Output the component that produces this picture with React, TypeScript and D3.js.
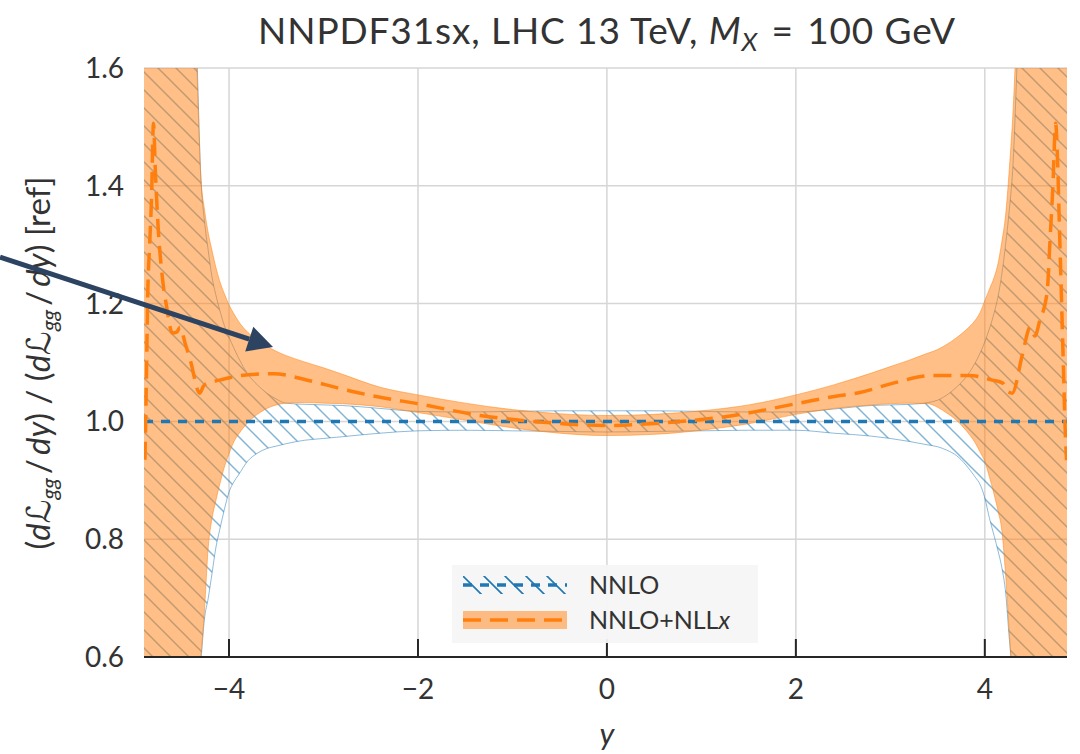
import React from "react";
import * as d3 from "d3";

// ---------- data ----------
const bandY = [
  -4.9, -4.6, -4.4, -4.34, -4.3, -4.26, -4.22, -4.18, -4.14, -4.1, -4.05, -4.0, -3.95, -3.9, -3.8, -3.7,
  -3.6, -3.5, -3.4, -3.2, -3.0, -2.8, -2.4, -2.0, -1.5, -1.0, -0.5, 0.0, 0.5, 1.0, 1.5, 2.0, 2.4, 2.8,
  3.0, 3.2, 3.4, 3.5, 3.6, 3.7, 3.8, 3.9, 3.95, 4.0, 4.05, 4.1, 4.14, 4.18, 4.22, 4.26, 4.3, 4.34, 4.4,
  4.6, 4.9,
];
const nnloUpper = [
  3.0, 2.4, 1.85, 1.62, 1.42, 1.34, 1.29, 1.245, 1.215, 1.19, 1.163, 1.143, 1.125, 1.108, 1.08, 1.062,
  1.048, 1.038, 1.031, 1.029, 1.028, 1.027, 1.022, 1.017, 1.016, 1.017, 1.018, 1.018, 1.018, 1.017, 1.016,
  1.016, 1.021, 1.027, 1.028, 1.029, 1.032, 1.036, 1.045, 1.058, 1.075, 1.1, 1.116, 1.135, 1.158, 1.185,
  1.212, 1.25, 1.3, 1.36, 1.44, 1.6, 1.85, 2.4, 3.0,
];
const nnloLower = [
  0.0, 0.2, 0.45, 0.54, 0.59, 0.665, 0.7, 0.742, 0.785, 0.815, 0.85, 0.88, 0.897, 0.909, 0.933, 0.946,
  0.954, 0.958, 0.962, 0.968, 0.971, 0.974, 0.98, 0.984, 0.985, 0.984, 0.983, 0.982, 0.983, 0.984, 0.985,
  0.985, 0.98, 0.975, 0.971, 0.966, 0.96, 0.957, 0.951, 0.942, 0.926, 0.905, 0.893, 0.87, 0.835, 0.805,
  0.78, 0.752, 0.71, 0.63, 0.56, 0.5, 0.42, 0.2, 0.0,
];
const resUpper = [
  3.0, 2.4, 1.9, 1.6, 1.42, 1.36, 1.32, 1.29, 1.262, 1.239, 1.217, 1.198, 1.183, 1.17, 1.151, 1.139,
  1.128, 1.119, 1.112, 1.101, 1.091, 1.08, 1.058, 1.045, 1.031, 1.02, 1.013, 1.01, 1.012, 1.018, 1.028,
  1.045, 1.062, 1.082, 1.093, 1.104, 1.116, 1.122, 1.131, 1.142, 1.155, 1.172, 1.185, 1.205, 1.225, 1.245,
  1.268, 1.305, 1.35, 1.43, 1.53, 1.68, 1.95, 2.4, 3.0,
];
const resLower = [
  0.2, 0.35, 0.5, 0.56, 0.6, 0.68, 0.786, 0.835, 0.865, 0.892, 0.922, 0.945, 0.965, 0.978, 0.998, 1.012,
  1.022, 1.028, 1.031, 1.032, 1.031, 1.03, 1.025, 1.015, 1.002, 0.989, 0.98, 0.976, 0.978, 0.985, 0.996,
  1.012, 1.022, 1.028, 1.03, 1.031, 1.03, 1.024, 1.014, 1.002, 0.985, 0.963, 0.948, 0.932, 0.905, 0.875,
  0.848, 0.815, 0.74, 0.64, 0.55, 0.48, 0.42, 0.3, 0.2,
];
const nnloCentralY = [-4.9, 4.87];
const nnloCentral = [1.0, 1.0];
const resCentralY = [
  -4.89, -4.88, -4.87, -4.86, -4.84, -4.82, -4.8, -4.78, -4.75, -4.71, -4.66, -4.6, -4.55, -4.52, -4.46,
  -4.41, -4.31, -4.27, -4.23, -4.1, -3.88, -3.53, -3.17, -2.83, -2.4, -2.0, -1.34, -0.63, 0.0, 0.63, 1.34,
  2.0, 2.47, 2.68, 3.03, 3.45, 3.84, 4.08, 4.19, 4.25, 4.29, 4.4, 4.48, 4.53, 4.58, 4.66, 4.69, 4.72, 4.75,
  4.77, 4.79, 4.81, 4.83, 4.85, 4.865,
];
const resCentral = [
  0.935, 1.02, 1.12, 1.217, 1.3, 1.38, 1.506, 1.426, 1.329, 1.251, 1.194, 1.15, 1.152, 1.16, 1.13, 1.104,
  1.048, 1.06, 1.065, 1.07, 1.078, 1.081, 1.07, 1.056, 1.041, 1.03, 1.01, 0.998, 0.993, 0.998, 1.01, 1.03,
  1.044, 1.049, 1.065, 1.078, 1.078, 1.07, 1.065, 1.05, 1.048, 1.115, 1.16, 1.145, 1.17, 1.22, 1.307, 1.397,
  1.506, 1.443, 1.329, 1.217, 1.104, 0.99, 0.934,
];
const xTicks = [-4, -2, 0, 2, 4];
const yTicks = [0.6, 0.8, 1.0, 1.2, 1.4, 1.6];
const xDomain = [-4.9, 4.87];
const yDomain = [0.6, 1.6];
const legendLabels = ["NNLO", "NNLO+NLL"];

// ---------- layout ----------
const W = 1080;
const H = 754;
const L = 144, R = 1067, T = 68, B = 657;
const BLUE = "#1f77b4";
const ORANGE = "#ff7f0e";
const TXT = "#333333";
const FONT = "Lato, 'DejaVu Sans', sans-serif";

export default function App() {
  const x = d3.scaleLinear().domain(xDomain).range([L, R]);
  const y = d3.scaleLinear().domain(yDomain).range([B, T]);

  const band = bandY.map((v, i) => ({ v, nu: nnloUpper[i], nl: nnloLower[i], ru: resUpper[i], rl: resLower[i] }));
  const curve = d3.curveMonotoneX;
  const nnloArea = d3.area<any>().x((d) => x(d.v)).y0((d) => y(d.nl)).y1((d) => y(d.nu)).curve(curve)(band) || "";
  const resArea = d3.area<any>().x((d) => x(d.v)).y0((d) => y(d.rl)).y1((d) => y(d.ru)).curve(curve)(band) || "";
  const nnloUpLine = d3.line<any>().x((d) => x(d.v)).y((d) => y(d.nu)).curve(curve)(band) || "";
  const nnloLoLine = d3.line<any>().x((d) => x(d.v)).y((d) => y(d.nl)).curve(curve)(band) || "";
  const resUpLine = d3.line<any>().x((d) => x(d.v)).y((d) => y(d.ru)).curve(curve)(band) || "";
  const resLoLine = d3.line<any>().x((d) => x(d.v)).y((d) => y(d.rl)).curve(curve)(band) || "";
  const nnloC = d3.line<number>().x((d, i) => x(nnloCentralY[i])).y((d) => y(d))(nnloCentral) || "";
  const resC = d3.line<number>().x((d, i) => x(resCentralY[i])).y((d) => y(d)).curve(d3.curveMonotoneX)(resCentral) || "";

  // arrow geometry (annotation)
  const ax0 = 0, ay0 = 257, ax1 = 273, ay1 = 347;
  const ang = Math.atan2(ay1 - ay0, ax1 - ax0);
  const hl = 25, hw = 13;
  const bx = ax1 - hl * Math.cos(ang), by = ay1 - hl * Math.sin(ang);
  const head = `M${ax1},${ay1} L${bx + hw * Math.sin(ang)},${by - hw * Math.cos(ang)} L${bx - hw * Math.sin(ang)},${by + hw * Math.cos(ang)} Z`;

  const lgX = 452, lgY = 565;
  return (
    <svg width={W} height={H} style={{ position: "absolute", left: 0, top: 0 }} fontFamily={FONT}>
      <defs>
        <clipPath id="plotclip">
          <rect x={L} y={T} width={R - L} height={B - T} />
        </clipPath>
        <pattern id="hatch" patternUnits="userSpaceOnUse" width={18} height={18}>
          <path d="M-2,-2 L20,20 M-2,16 L2,20 M16,-2 L20,2" stroke={BLUE} strokeOpacity={0.55} strokeWidth={1.5} />
        </pattern>
        <pattern id="hatchLeg" patternUnits="userSpaceOnUse" width={21} height={21} x={463} y={576}>
          <path d="M-2,-2 L23,23 M-2,19 L2,23 M19,-2 L23,2" stroke={BLUE} strokeWidth={1.6} />
        </pattern>
      </defs>

      <rect x={0} y={0} width={W} height={H} fill="#ffffff" />

      {/* grid */}
      {xTicks.map((t) => (
        <line key={"gx" + t} x1={x(t)} x2={x(t)} y1={T} y2={B} stroke="#d6d6d6" strokeWidth={1.5} />
      ))}
      {yTicks.map((t) => (
        <line key={"gy" + t} x1={L} x2={R} y1={y(t)} y2={y(t)} stroke="#d6d6d6" strokeWidth={1.5} />
      ))}

      <g clipPath="url(#plotclip)">
        <path d={nnloArea} fill="url(#hatch)" />
        <path d={nnloUpLine} fill="none" stroke={BLUE} strokeOpacity={0.5} strokeWidth={1} />
        <path d={nnloLoLine} fill="none" stroke={BLUE} strokeOpacity={0.5} strokeWidth={1} />
        <path d={resArea} fill={ORANGE} fillOpacity={0.5} />
        <path d={resUpLine} fill="none" stroke={ORANGE} strokeOpacity={0.5} strokeWidth={1} />
        <path d={resLoLine} fill="none" stroke={ORANGE} strokeOpacity={0.5} strokeWidth={1} />
        <path d={nnloC} fill="none" stroke={BLUE} strokeWidth={3.5} strokeDasharray="9,8" />
        <path d={resC} fill="none" stroke={ORANGE} strokeWidth={3.5} strokeDasharray="18,9" />
      </g>

      {/* bottom spine and ticks */}
      <line x1={L} x2={R} y1={B} y2={B} stroke="#262626" strokeWidth={2.2} />
      {xTicks.map((t) => (
        <g key={"tx" + t}>
          <line x1={x(t)} x2={x(t)} y1={B} y2={B - 18} stroke="#262626" strokeWidth={2} />
          <text x={x(t)} y={B + 42} textAnchor="middle" fontSize={28} fill={TXT}>
            {t < 0 ? "\u2212" + Math.abs(t) : String(t)}
          </text>
        </g>
      ))}
      {yTicks.map((t) => (
        <text key={"ty" + t} x={124} y={y(t) + 10} textAnchor="end" fontSize={28} fill={TXT}>
          {t.toFixed(1)}
        </text>
      ))}

      {/* title */}
      <text x={607} y={44} textAnchor="middle" fontSize={37} fill={TXT} letterSpacing={0.9}>
        <tspan>NNPDF31sx, LHC 13 TeV, </tspan>
        <tspan fontStyle="italic">M</tspan>
        <tspan fontStyle="italic" fontSize={26} dy={7}>X</tspan>
        <tspan dy={-7}>{"\u2004=\u2004"}</tspan>
        <tspan>100 GeV</tspan>
      </text>

      {/* x label */}
      <text x={607} y={745} textAnchor="middle" fontSize={31} fontStyle="italic" fill={TXT}>y</text>

      {/* y label */}
      <text transform="translate(50,363) rotate(-90)" textAnchor="middle" fontSize={33} fill={TXT}>
        <tspan>(</tspan>
        <tspan fontStyle="italic">d</tspan>
        <tspan>{"\u2112"}</tspan>
        <tspan fontStyle="italic" fontSize={22} dy={7}>gg</tspan>
        <tspan dy={-7}>{"\u2009/\u2009"}</tspan>
        <tspan fontStyle="italic">dy</tspan>
        <tspan>) / (</tspan>
        <tspan fontStyle="italic">d</tspan>
        <tspan>{"\u2112"}</tspan>
        <tspan fontStyle="italic" fontSize={22} dy={7}>gg</tspan>
        <tspan dy={-7}>{"\u2009/\u2009"}</tspan>
        <tspan fontStyle="italic">dy</tspan>
        <tspan>) [ref]</tspan>
      </text>

      {/* legend */}
      <rect x={lgX} y={lgY} width={306} height={78} fill="#f6f6f6" fillOpacity={0.95} />
      <rect x={463} y={576} width={104} height={18} fill="url(#hatchLeg)" />
      <line x1={463} x2={567} y1={585} y2={585} stroke={BLUE} strokeWidth={3.5} strokeDasharray="9,8" />
      <text x={589} y={594} fontSize={25} fill={TXT}>{legendLabels[0]}</text>
      <rect x={463} y={611} width={104} height={18} fill={ORANGE} fillOpacity={0.5} />
      <line x1={463} x2={567} y1={620} y2={620} stroke={ORANGE} strokeWidth={3.5} strokeDasharray="18,9" />
      <text x={589} y={629} fontSize={25} fill={TXT}>
        {legendLabels[1]}
        <tspan fontStyle="italic">x</tspan>
      </text>

      {/* annotation arrow */}
      <line x1={ax0} y1={ay0} x2={bx} y2={by} stroke="#2c4462" strokeWidth={5} />
      <path d={head} fill="#2c4462" />
    </svg>
  );
}
